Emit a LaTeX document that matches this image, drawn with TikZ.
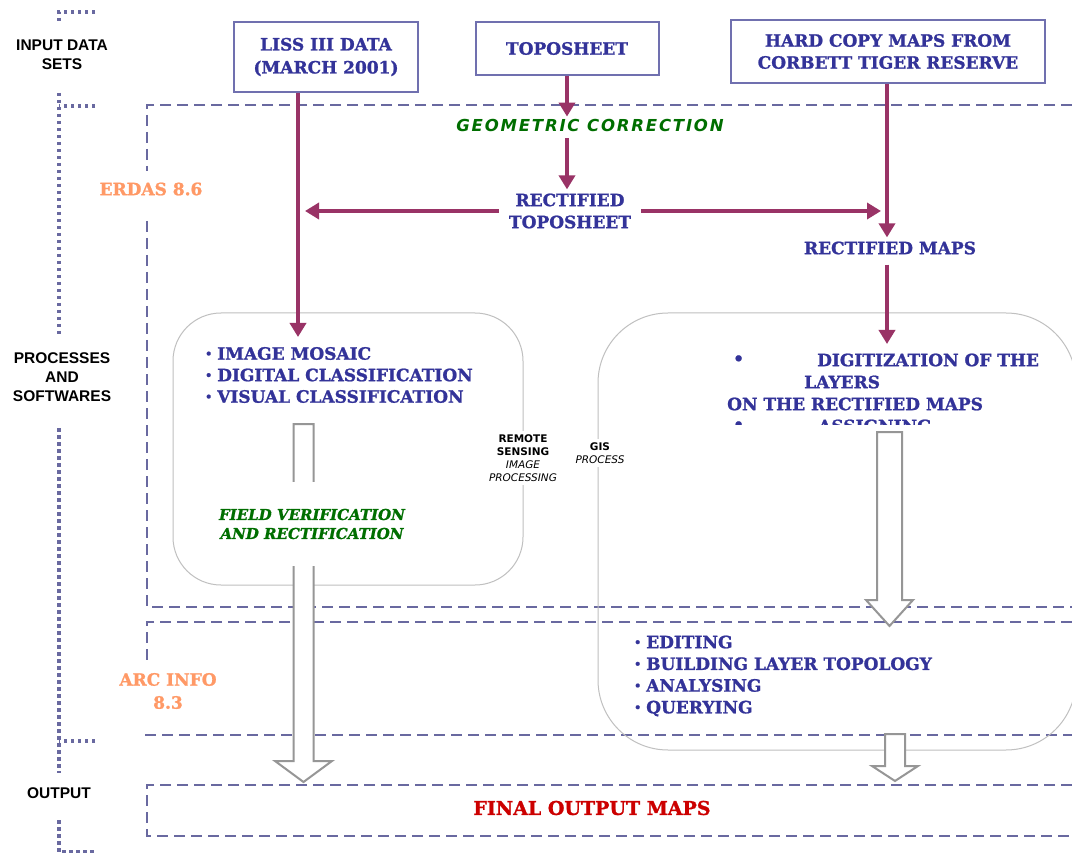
\documentclass[tikz,border=0pt]{standalone}
\usepackage{fontspec}
\setmainfont{DejaVu Serif}[BoldFeatures={FakeBold=1.2}, BoldItalicFeatures={FakeBold=1.2}]
\newfontfamily\lsans{Liberation Sans}
\newfontfamily\dsans{DejaVu Sans}
\newfontfamily\geomfont{DejaVu Sans Bold Oblique}[LetterSpace=11]
\usetikzlibrary{arrows.meta}

\definecolor{tblue}{RGB}{51,51,153}
\definecolor{boxline}{RGB}{112,112,175}
\definecolor{dashc}{RGB}{105,105,160}
\definecolor{mag}{RGB}{153,51,102}
\definecolor{hgray}{RGB}{150,150,150}
\definecolor{rgray}{RGB}{192,192,192}
\definecolor{orng}{RGB}{255,153,102}
\definecolor{grn}{RGB}{0,110,0}
\definecolor{fred}{RGB}{204,0,0}

\newcommand{\smbul}{{\fontsize{11}{11}\selectfont\raisebox{2pt}{•}}\hspace{5pt}}

\tikzset{
  inbox/.style={draw=boxline, line width=2pt, fill=white, text=tblue,
    font=\bfseries\fontsize{17}{23}\selectfont, align=center, inner sep=0pt},
  btext/.style={text=tblue, font=\bfseries\fontsize{17}{22}\selectfont, inner sep=0pt},
  flow/.style={draw=mag, line width=3.5pt, -{Triangle[length=14pt,width=16pt]}},
  dashln/.style={draw=dashc, line width=2pt, dash pattern=on 11pt off 6pt},
  dotln/.style={draw=dashc, line width=4pt, dash pattern=on 3.5pt off 3.5pt},
  hollow/.style={draw=hgray, line width=2pt, fill=white, line join=miter},
  rbox/.style={draw=rgray, line width=1pt},
  side/.style={font=\lsans\bfseries\fontsize{15.5}{19}\selectfont, align=center, inner sep=0pt},
  soft/.style={text=orng, font=\bfseries\fontsize{17}{23}\selectfont, align=center, inner sep=0pt},
  tinylbl/.style={font=\dsans\fontsize{10.5}{13}\selectfont, align=center, fill=white,
    inner xsep=2pt, inner ysep=4pt},
}

\begin{document}
\begin{tikzpicture}[x=1pt,y=-1pt]
\useasboundingbox (0,0) rectangle (1072,853);
\fill[white] (0,0) rectangle (1072,853);

% left dotted bracket
\draw[dotln] (95,12) -- (59,12) -- (59,23);
\draw[dotln] (59,93) -- (59,336);
\draw[dotln] (95,106) -- (59,106);
\draw[dotln] (59,428) -- (59,773);
\draw[dotln] (95,741) -- (59,741);
\draw[dotln] (59,820) -- (59,852) -- (95,852);

% dashed regions
\draw[dashln] (1072,105) -- (147,105) -- (147,171);
\draw[dashln] (147,221) -- (147,607) -- (1072,607);
\draw[dashln] (1072,622) -- (147,622) -- (147,660);
\draw[dashln] (145,735) -- (1072,735);
\draw[dashln] (1072,785) -- (147,785) -- (147,836) -- (1072,836);

% rounded process boxes
\draw[rbox, rounded corners=48pt] (173,313) rectangle (523,585);
\draw[rbox, rounded corners=70pt] (598,313) rectangle (1076,750);

% hollow arrows
\draw[hollow] (293.5,424) -- (313.5,424) -- (313.5,761) -- (332,761) -- (303.5,782)
  -- (275,761) -- (293.5,761) -- cycle;
\draw[hollow] (877,432) -- (902,432) -- (902,600) -- (913,600) -- (889.5,626)
  -- (866,600) -- (877,600) -- cycle;
\draw[hollow] (885,734) -- (905,734) -- (905,766) -- (918,766) -- (895,781)
  -- (872,766) -- (885,766) -- cycle;

% side labels
\node[side] (lin) at (62,54.5) {INPUT DATA\\SETS};
\node[side] (lproc) at (62,377) {PROCESSES\\AND\\SOFTWARES};
\node[side] (lout) at (59,793) {OUTPUT};

% software labels
\node[soft] (erdas) at (151,189) {ERDAS 8.6};
\node[soft] (arc) at (168,691) {ARC INFO\\8.3};

% input boxes
\node[inbox, minimum width=184pt, minimum height=70pt] (liss) at (326,57) {LISS III DATA\\(MARCH 2001)};
\node[inbox, minimum width=183pt, minimum height=53pt] (topo) at (567,48.5) {TOPOSHEET};
\node[inbox, minimum width=314pt, minimum height=63pt, font=\bfseries\fontsize{17}{22}\selectfont] (hard) at (888,51.5) {HARD COPY MAPS FROM\\CORBETT TIGER RESERVE};

% processing texts
\node[text=grn, font=\geomfont\fontsize{16.5}{20}\selectfont, inner xsep=0pt, inner ysep=2pt] (geom) at (590,125) {GEOMETRIC CORRECTION};
\node[btext, align=center, inner xsep=10pt, inner ysep=4pt] (rtopo) at (570,211) {RECTIFIED\\TOPOSHEET};
\node[btext, inner ysep=4pt] (rmaps) at (890,248) {RECTIFIED MAPS};

\coordinate (lisstip) at (298,337);
\coordinate (lhit) at (305,211);
\coordinate (rhit) at (881,211);
\coordinate (dtip) at (887,344);

\draw[flow] (liss.south -| lisstip) -- (lisstip);
\draw[flow] (topo.south) -- (topo.south |- geom.north);
\draw[flow, shorten <=5pt] (geom.south -| topo.south) -- (rtopo.north -| topo.south);
\draw[flow] (rtopo.west) -- (rtopo.west -| lhit);
\draw[flow] (rtopo.east) -- (rtopo.east -| rhit);
\draw[flow] (hard.south -| dtip) -- (rmaps.north -| dtip);
\draw[flow, shorten <=6pt] (rmaps.south -| dtip) -- (dtip);

% left box contents
\node[btext, anchor=west, align=left, font=\bfseries\fontsize{17}{21.5}\selectfont] (rslist) at (205,375)
  {\smbul IMAGE MOSAIC\\ \smbul DIGITAL CLASSIFICATION\\ \smbul VISUAL CLASSIFICATION};
\node[text=grn, font=\bfseries\itshape\fontsize{15}{19}\selectfont, align=center, fill=white,
  minimum height=84pt, inner sep=0pt] (field) at (312,524) {FIELD VERIFICATION\\AND RECTIFICATION};

% right box contents
\node[btext, anchor=west] (b1) at (733,360) {•};
\node[btext, anchor=west] (dg1) at (817,360) {DIGITIZATION OF THE};
\node[btext, anchor=west] (dg2) at (804,382) {LAYERS};
\node[btext, anchor=west] (dg3) at (727,404) {ON THE RECTIFIED MAPS};
\begin{scope}
  \clip (700,340) rectangle (1072,424);
  \node[btext, anchor=west] (b2) at (733,426) {•};
  \node[btext, anchor=west] (dg4) at (818,426) {ASSIGNING};
\end{scope}
\node[btext, anchor=west, align=left, font=\bfseries\fontsize{17}{21.7}\selectfont] (gislist) at (634,676)
  {\smbul EDITING\\ \smbul BUILDING LAYER TOPOLOGY\\ \smbul ANALYSING\\ \smbul QUERYING};

% section tags
\node[tinylbl] (rs) at (523,458) {\bfseries REMOTE\\\bfseries SENSING\\\itshape IMAGE\\\itshape PROCESSING};
\node[tinylbl] (gis) at (600,453) {\bfseries GIS\\\itshape PROCESS};

% output
\node[text=fred, font=\bfseries\fontsize{19}{23}\selectfont, inner sep=0pt] (final) at (592,808) {FINAL OUTPUT MAPS};
\end{tikzpicture}
\end{document}
